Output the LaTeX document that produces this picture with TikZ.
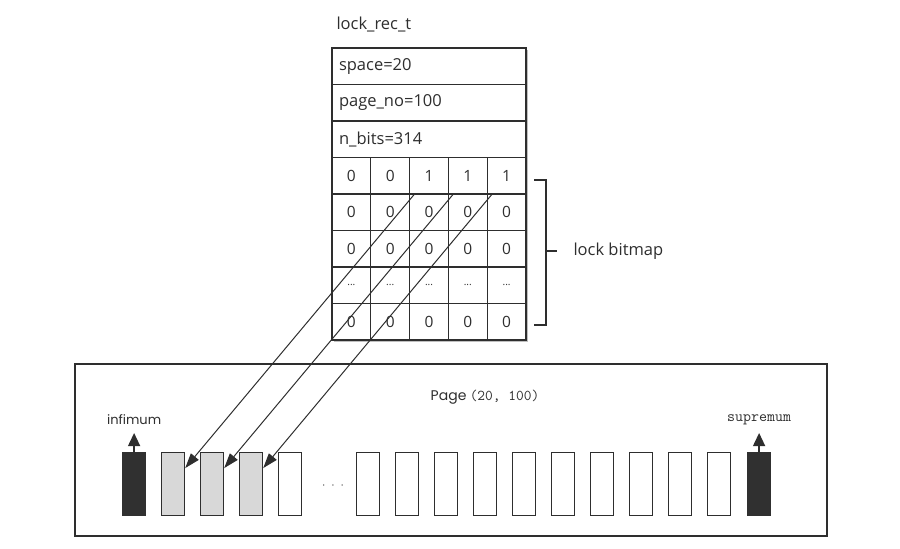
\documentclass[tikz,border=0pt]{standalone}
\usepackage{fontspec}
\usetikzlibrary{positioning, arrows.meta, shadows}
\newfontfamily\structfont{Open Sans}
\newfontfamily\geofont{Poppins}
\definecolor{ink}{HTML}{2E2E2E}
\definecolor{lockgray}{HTML}{D8D8D8}
\definecolor{recdark}{HTML}{303030}
\newcommand{\dts}{{\fontsize{10}{10}\selectfont ...}}

\begin{document}
\begin{tikzpicture}[x=1pt, y=-1pt,
        field/.style={rectangle, draw=ink, fill=white, line width=1.1pt, text width=180pt, inner xsep=7pt, minimum height=36.5pt, outer sep=0pt, anchor=north west, text=ink, font=\structfont\fontsize{16.5}{19}\selectfont},
        cell/.style={rectangle, draw=ink, fill=white, line width=1.1pt, minimum width=38.8pt, minimum height=36.5pt, inner sep=0pt, outer sep=0pt, anchor=north west, text=ink, font=\structfont\fontsize{15.5}{17}\selectfont},
        rec/.style={rectangle, draw=ink, fill=white, line width=1.2pt, minimum width=23pt, minimum height=63pt, inner sep=0pt, anchor=north west},
        lockedrec/.style={rec, fill=lockgray},
        endrec/.style={rec, fill=recdark, draw=recdark},
        endlbl/.style={anchor=south, inner ysep=8pt, text=ink},
        bitarrow/.style={-{Triangle[length=15pt, width=10pt]}, draw=ink, line width=1pt},
        endarrow/.style={-{Triangle[length=13pt, width=12pt]}, draw=ink, line width=1.3pt}
        ]
        \useasboundingbox (0,0) rectangle (900,549);

        % lock_rec_t structure
        \node[anchor=west, text=ink, font=\structfont\fontsize{16.5}{19}\selectfont] (lrtitle) at (333,24) {lock\_rec\_t};
        \fill[white, drop shadow={shadow xshift=2pt, shadow yshift=-2pt, opacity=.5}] (332,48) rectangle (526,340);
        \node[field] (space) at (332,48) {space=20};
        \node[field, below=0pt of space] (pageno) {page\_no=100};
        \node[field, below=0pt of pageno] (nbits) {n\_bits=314};

        % bitmap
        \foreach \vals [count=\r] in {{0,0,1,1,1},{0,0,0,0,0},{0,0,0,0,0},{\dts,\dts,\dts,\dts,\dts},{0,0,0,0,0}}
            \foreach \v [count=\c] in \vals
                \node[cell] (b-\r-\c) at ({332+38.8*(\c-1)}, {157.5+36.5*(\r-1)}) {\v};

        \draw[ink, line width=1.1pt] (534,180) -- (546,180) -- (546,325) -- (534,325) (546,251) -- (557,251);
        \node[anchor=west, text=ink, font=\structfont\fontsize{16.5}{19}\selectfont] (bmlbl) at (570,251) {lock bitmap};

        % page
        \node[rectangle, draw=ink, line width=1.5pt, minimum width=752pt, minimum height=172pt] (page) at (451,450) {};
        \node[text=ink] (pagelbl) at (485,397) {{\geofont\fontsize{14}{16}\selectfont Page} {\ttfamily\fontsize{15}{16}\selectfont(20, 100)}};

        \node[endrec] (inf) at (122,452) {};
        \foreach \i in {1,2,3}
            \node[lockedrec] (r\i) at ({122+39*\i},452) {};
        \node[rec] (r4) at (278,452) {};
        \node[text=ink, font=\fontsize{13}{13}\selectfont] (dots) at (333,486) {$\cdot\;\cdot\;\cdot$};
        \foreach \i in {1,...,10}
            \node[rec] (s\i) at ({317+39*\i},452) {};
        \node[endrec] (sup) at (747,452) {};

        \node[endlbl, font=\geofont\fontsize{13}{15}\selectfont] (inflbl) at ([yshift=19pt]inf.north) {infimum};
        \node[endlbl, font=\ttfamily\fontsize{15.5}{17}\selectfont] (suplbl) at ([yshift=19pt]sup.north) {supremum};
        \draw[endarrow] (inf) -- (inflbl);
        \draw[endarrow] (sup) -- (suplbl);

        \foreach \c [count=\i] in {3,4,5}
            \draw[bitarrow] ([xshift=5pt]b-1-\c.south west) -- ([yshift=16pt]r\i.east);
    \end{tikzpicture}
\end{document}
